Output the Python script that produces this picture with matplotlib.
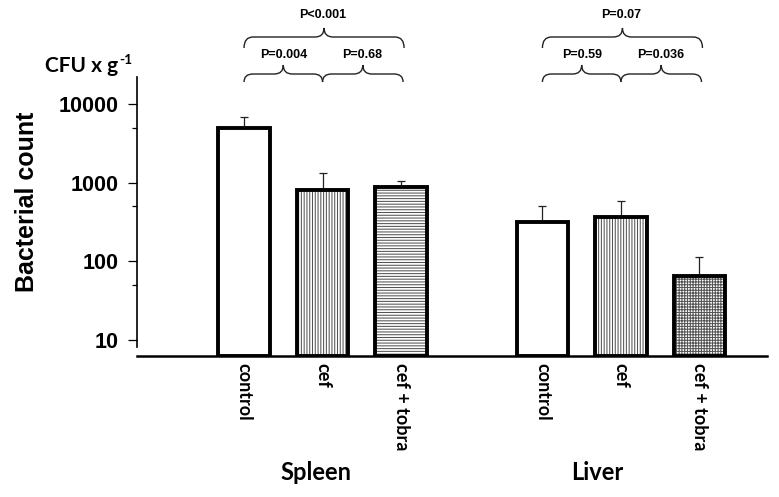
import numpy as np
import matplotlib.pyplot as plt
from matplotlib.path import Path
from matplotlib.patches import PathPatch
from matplotlib.ticker import FixedLocator, NullFormatter

# bar values (CFU per g) and top of the error bars
groups = ["Spleen", "Liver"]
treatments = ["control", "cef", "cef + tobra"]
spleen = [5000, 800, 870]
spleen_top = [6800, 1340, 1060]
liver = [320, 370, 65]
liver_top = [510, 590, 115]
pvals_spleen = ["P<0.001", "P=0.004", "P=0.68"]
pvals_liver = ["P=0.07", "P=0.59", "P=0.036"]

plt.rcParams['hatch.linewidth'] = 0.75
num_font = "Liberation Sans"
cal_font = "Lato"

fig = plt.figure(figsize=(7.79, 4.97), dpi=100)
ax = fig.add_axes([137 / 779, 1 - 356 / 497, 630 / 779, 279 / 497])

pos = np.array([0, 1, 2, 3.8, 4.8, 5.8])
vals = np.array(spleen + liver)
tops = np.array(spleen_top + liver_top)
hatches = [None, "||||||", "------", None, "||||||", "++++++"]
ybot = 6.27
w = 0.66

ax.set_yscale("log")
ax.set_ylim(ybot, 21970)
ax.set_xlim(-1.363, 6.66)

ax.errorbar(pos, vals, yerr=[np.zeros(len(vals)), tops - vals], fmt="none",
            ecolor="#222222", elinewidth=0.9, capsize=3, capthick=0.9, zorder=1)
for p, v, h in zip(pos, vals, hatches):
    ax.bar(p, v - ybot, bottom=ybot, width=w, color="white", edgecolor="#555555",
           hatch=h, linewidth=0, zorder=2)
    ax.bar(p, v - ybot, bottom=ybot, width=w, fill=False, edgecolor="black",
           linewidth=2.8, zorder=3)

for s in ["top", "right"]:
    ax.spines[s].set_visible(False)
ax.spines["left"].set_bounds(8.2, 21970)
ax.spines["left"].set_linewidth(1.2)
ax.spines["bottom"].set_linewidth(1.8)

ax.yaxis.set_major_locator(FixedLocator([10, 100, 1000, 10000]))
ax.yaxis.set_minor_locator(FixedLocator([50, 500, 5000]))
ax.yaxis.set_minor_formatter(NullFormatter())
ax.set_yticklabels(["10", "100", "1000", "10000"], fontfamily=num_font,
                   fontweight="bold", fontsize=15.5)
ax.tick_params(axis="y", which="major", length=6.5, width=0.9, pad=7)
ax.tick_params(axis="y", which="minor", length=3.6, width=0.9)

ax.set_xticks(pos)
ax.set_xticklabels(treatments * 2, rotation=270, fontfamily=cal_font,
                   fontweight="bold", fontsize=13, va="top", ha="center")
ax.tick_params(axis="x", length=0, pad=5)

fig.text(27 / 779, 1 - 202 / 497, "Bacterial count", rotation=90, ha="center",
         va="center", fontfamily=num_font, fontweight="bold", fontsize=18)
fig.text(45 / 779, 1 - 66 / 497, "CFU x g", ha="left", va="center",
         fontfamily=cal_font, fontweight="bold", fontsize=15)
fig.text(119 / 779, 1 - 60 / 497, "-1", ha="left", va="center",
         fontfamily=cal_font, fontweight="bold", fontsize=10)
fig.text(316 / 779, 1 - 473 / 497, groups[0], ha="center", va="center",
         fontfamily=cal_font, fontweight="bold", fontsize=17)
fig.text(597 / 779, 1 - 473 / 497, groups[1], ha="center", va="center",
         fontfamily=cal_font, fontweight="bold", fontsize=17)


def brace(x0, x1, y_end, y_line, y_peak, r=9):
    # x in pixels, y in pixels from top
    xm = (x0 + x1) / 2
    H = 497
    pts = [(x0, y_end), (x0, y_line), (x0 + r, y_line),
           (xm - r, y_line),
           (xm, y_line), (xm, y_peak),
           (xm, y_line), (xm + r, y_line),
           (x1 - r, y_line),
           (x1, y_line), (x1, y_end)]
    codes = [Path.MOVETO, Path.CURVE3, Path.CURVE3, Path.LINETO,
             Path.CURVE3, Path.CURVE3, Path.CURVE3, Path.CURVE3,
             Path.LINETO, Path.CURVE3, Path.CURVE3]
    pts = [(x / 779, 1 - y / H) for x, y in pts]
    fig.add_artist(PathPatch(Path(pts, codes), fill=False, lw=1.0,
                             edgecolor="#222222", transform=fig.transFigure))


def px(x):
    return ax.transData.transform((x, 100))[0]


for start, pv in [(0, pvals_spleen), (3, pvals_liver)]:
    a, b, c = px(pos[start]), px(pos[start + 1]), px(pos[start + 2])
    brace(a, c + 3, 48, 37, 28)
    brace(a, b, 82, 74, 65)
    brace(b, c + 2, 82, 74, 65)
    fig.text(((a + c) / 2) / 779, 1 - 15 / 497, pv[0], ha="center", va="center",
             fontfamily=num_font, fontweight="bold", fontsize=9)
    fig.text(((a + b) / 2) / 779, 1 - 55 / 497, pv[1], ha="center", va="center",
             fontfamily=num_font, fontweight="bold", fontsize=9)
    fig.text(((b + c) / 2) / 779, 1 - 55 / 497, pv[2], ha="center", va="center",
             fontfamily=num_font, fontweight="bold", fontsize=9)

fig.savefig("out.png", dpi=100)
